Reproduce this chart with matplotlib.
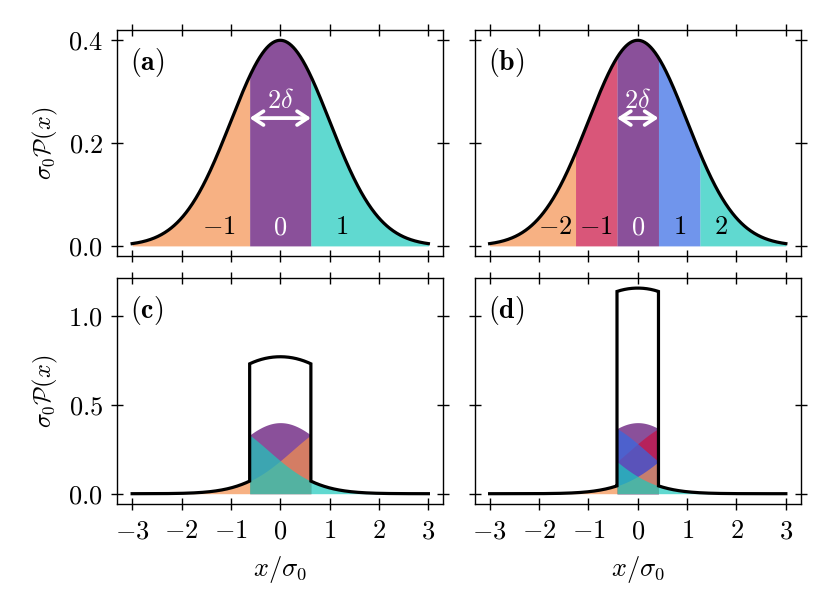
import numpy as np
import matplotlib
matplotlib.use('Agg')
import matplotlib.pyplot as plt
from matplotlib.colors import to_rgb

plt.rcParams['mathtext.fontset'] = 'cm'
plt.rcParams['font.family'] = 'serif'
plt.rcParams['font.serif'] = ['DejaVu Serif']
plt.rcParams['font.size'] = 15

# ---------------- data ----------------
sigma0 = 1.0
x_min, x_max = -3.0, 3.0
delta_left = 0.62
delta_right = 0.42
bins_left = [-1, 0, 1]
bins_right = [-2, -1, 0, 1, 2]
# visible colours of the bins (on white)
colors_left = ['#F8B283', '#8A519A', '#60DAD0']
colors_right = ['#F8B283', '#DA577A', '#8A519A', '#7196EC', '#60DAD0']
fill_alpha = 0.7
x_ticks = [-3, -2, -1, 0, 1, 2, 3]
x_ticklabels = ['$-3$', '$-2$', '$-1$', '$0$', '$1$', '$2$', '$3$']
y_ticks_top = [0.0, 0.2, 0.4]
y_ticklabels_top = ['$0.0$', '$0.2$', '$0.4$']
y_ticks_bot = [0.0, 0.5, 1.0]
y_ticklabels_bot = ['$0.0$', '$0.5$', '$1.0$']
panel_labels = ['a', 'b', 'c', 'd']
bin_label_y = 0.037
arrow_y = 0.248
arrow_text_y = 0.283
FS = 19
FS_Y = 17.5


def pdf(x):
    return np.exp(-0.5 * (x / sigma0) ** 2) / (np.sqrt(2 * np.pi) * sigma0)


def base_color(c):
    r = np.array(to_rgb(c))
    return tuple(np.clip(1 - (1 - r) / fill_alpha, 0, 1))


def bin_range(n, bins, d):
    lo = -np.inf if n == min(bins) else (2 * n - 1) * d
    hi = np.inf if n == max(bins) else (2 * n + 1) * d
    return lo, hi


fig, axes = plt.subplots(2, 2, figsize=(8.31, 6.10), dpi=100, sharey='row', sharex=True)
fig.subplots_adjust(left=0.1412, right=0.9635, top=0.9508, bottom=0.1738,
                    wspace=0.097, hspace=0.0956)

for col, (d, bins, cols) in enumerate([(delta_left, bins_left, colors_left),
                                       (delta_right, bins_right, colors_right)]):
    # ---- top: original distribution split into bins
    ax = axes[0, col]
    for n, c in zip(bins, cols):
        lo, hi = bin_range(n, bins, d)
        xs = np.linspace(max(lo, x_min), min(hi, x_max), 200)
        ax.fill_between(xs, 0, pdf(xs), color=base_color(c), alpha=fill_alpha, lw=0)
        ax.text(2 * n * d, bin_label_y, f'${n}$' if n >= 0 else f'$-{abs(n)}$',
                color='white' if n == 0 else 'black', ha='center', va='center', fontsize=FS)
    xx = np.linspace(x_min, x_max, 600)
    ax.plot(xx, pdf(xx), color='black', lw=2.3, zorder=5)
    ax.annotate('', xy=(-d, arrow_y), xytext=(d, arrow_y),
                arrowprops=dict(arrowstyle='<->,head_length=0.5,head_width=0.33',
                                color='white', lw=2.7,
                                shrinkA=0, shrinkB=0, mutation_scale=15))
    ax.text(0, arrow_text_y, r'$2\delta$', color='white', ha='center', va='center', fontsize=FS)

    # ---- bottom: folded distribution
    ax = axes[1, col]
    order = sorted(bins, key=lambda n: (abs(n), n))
    for n in order:
        c = cols[bins.index(n)]
        lo, hi = bin_range(n, bins, d)
        lo_s, hi_s = lo - 2 * n * d, hi - 2 * n * d
        xs = np.linspace(max(lo_s, x_min), min(hi_s, x_max), 300)
        ax.fill_between(xs, 0, pdf(xs + 2 * n * d), color=base_color(c), alpha=fill_alpha, lw=0)
    segs_x, segs_y = [], []
    for a, b in [(x_min, -d), (-d, d), (d, x_max)]:
        xs = np.linspace(a, b, 300)
        mid = 0.5 * (a + b)
        tot = np.zeros_like(xs)
        for n in bins:
            lo, hi = bin_range(n, bins, d)
            lo_s, hi_s = lo - 2 * n * d, hi - 2 * n * d
            if lo_s <= mid <= hi_s:
                tot += pdf(xs + 2 * n * d)
        segs_x.append(xs)
        segs_y.append(tot)
    ax.plot(np.concatenate(segs_x), np.concatenate(segs_y), color='black', lw=2.3,
            zorder=5, solid_joinstyle='miter')

axes[1, 0].set_xticks(x_ticks)
axes[1, 0].set_xticklabels(x_ticklabels)
axes[0, 0].set_yticks(y_ticks_top)
axes[0, 0].set_yticklabels(y_ticklabels_top)
axes[1, 0].set_yticks(y_ticks_bot)
axes[1, 0].set_yticklabels(y_ticklabels_bot)

for i, ax in enumerate(axes.flat):
    r, c = divmod(i, 2)
    ax.tick_params(direction='inout', length=8.5, width=1.0, top=True, right=True,
                   labelsize=FS, labelleft=(c == 0), labelbottom=(r == 1))
    ax.tick_params(axis='x', pad=6)
    ax.tick_params(axis='y', pad=6)
    for s in ax.spines.values():
        s.set_linewidth(1.0)
    ax.text(0.04, 0.855, r'$(\mathbf{' + panel_labels[i] + '})$', transform=ax.transAxes,
            ha='left', va='center', fontsize=FS + 1)
    if c == 0:
        ax.set_ylabel(r'$\sigma_0\mathcal{P}(x)$', fontsize=FS_Y, labelpad=6)
    if r == 1:
        ax.set_xlabel(r'$x/\sigma_0$', fontsize=FS, labelpad=8)

fig.savefig('out.png', dpi=100)
